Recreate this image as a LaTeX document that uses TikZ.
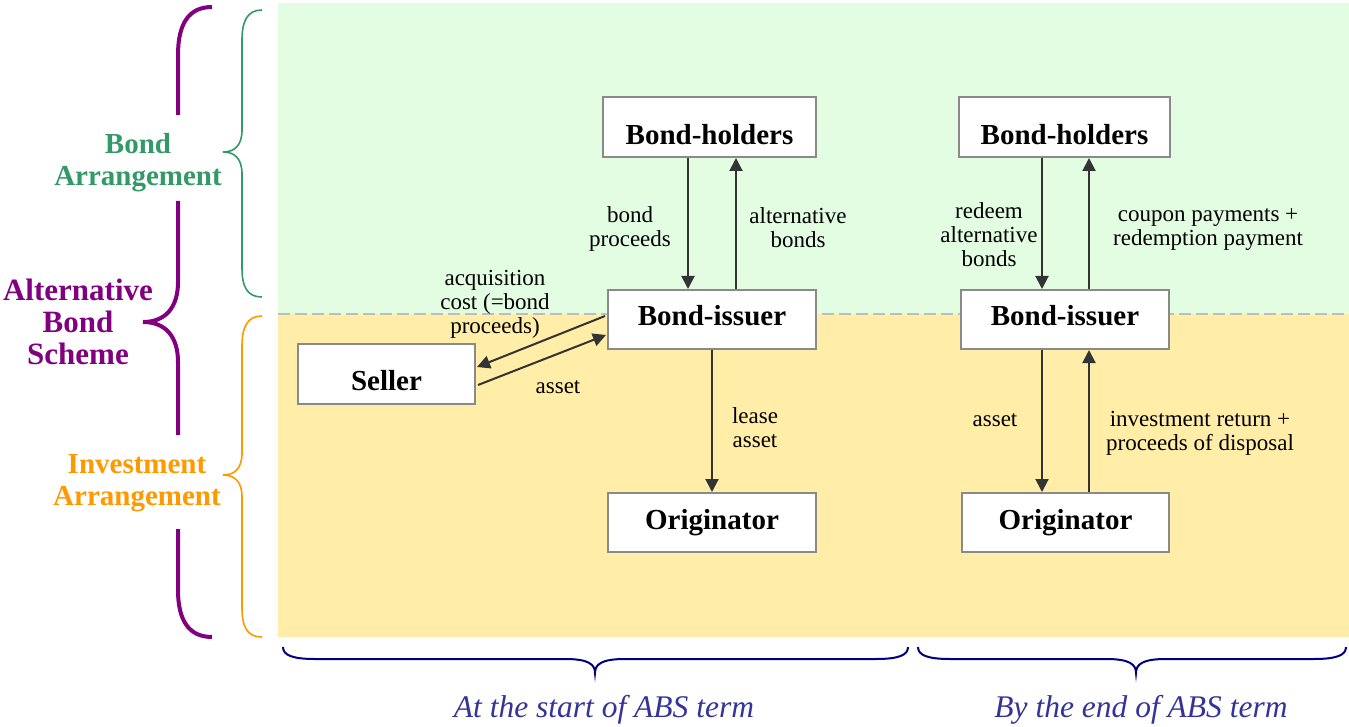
\documentclass[tikz,border=0pt]{standalone}
\usepackage{fontspec}
\setmainfont{Liberation Serif}
\usetikzlibrary{arrows.meta,calc}
\definecolor{greenbg}{HTML}{E3FDE3}
\definecolor{yellowbg}{HTML}{FFEDA8}
\definecolor{boxgray}{HTML}{8A8A8A}
\definecolor{arrowgray}{HTML}{333333}
\definecolor{dashgray}{HTML}{BDBDBD}
\definecolor{bracepurple}{HTML}{800080}
\definecolor{bracegreen}{HTML}{339966}
\definecolor{braceorange}{HTML}{FF9900}
\definecolor{navybrace}{HTML}{000080}
\definecolor{captionblue}{HTML}{333399}
\begin{document}
\begin{tikzpicture}[x=1pt,y=-1pt,
  box/.style={draw=boxgray,line width=2pt,fill=white,inner sep=0pt,
    font=\fontsize{29}{32}\selectfont\bfseries},
  arr/.style={draw=arrowgray,line width=2pt,-{Triangle[length=13pt,width=13pt]}},
  lbl/.style={align=center,inner sep=0pt,font=\fontsize{23}{24}\selectfont,text=black},
  sidelbl/.style={align=center,inner sep=0pt,font=\fontsize{29}{32}\selectfont\bfseries},
  schemelbl/.style={align=center,inner sep=0pt,font=\fontsize{31}{32}\selectfont\bfseries,text=bracepurple},
  caption/.style={inner sep=0pt,font=\fontsize{31.5}{34}\selectfont\itshape,text=captionblue},
  bigbrace/.style={draw=bracepurple,line width=4pt},
  thinbrace/.style={line width=1.6pt},
  navy/.style={draw=navybrace,line width=2pt}
]
\useasboundingbox (0,0) rectangle (1349,727);
% backgrounds
\fill[greenbg] (278,3) rectangle (1349,314);
\fill[yellowbg] (278,314) rectangle (1349,637);
\draw[dashgray,line width=2pt,dash pattern=on 12pt off 5pt] (278,314) -- (1349,314);

% left braces
\draw[bigbrace] (212,7) .. controls (190,7) and (178,22) .. (178,55) -- (178,115);
\draw[bigbrace] (178,201) -- (178,282) .. controls (178,308) and (165,322) .. (143,322)
  .. controls (165,322) and (178,336) .. (178,362) -- (178,435);
\draw[bigbrace] (178,529) -- (178,590) .. controls (178,622) and (190,637) .. (212,637);
\draw[thinbrace,draw=bracegreen] (262,10) .. controls (248,10) and (242,20) .. (242,40) -- (242,130)
  .. controls (242,145) and (235,152) .. (223,152)
  .. controls (235,152) and (242,159) .. (242,174) -- (242,268)
  .. controls (242,288) and (248,297) .. (262,297);
\draw[thinbrace,draw=braceorange] (262,316) .. controls (248,316) and (242,326) .. (242,346) -- (242,453)
  .. controls (242,468) and (235,475) .. (223,475)
  .. controls (235,475) and (242,482) .. (242,497) -- (242,608)
  .. controls (242,628) and (248,637) .. (262,637);
\node[schemelbl] (scheme) at (78,322) {Alternative\\Bond\\Scheme};
\node[sidelbl,text=bracegreen] (bondarr) at (138,163) {Bond\\Arrangement};
\node[sidelbl,text=braceorange] (invarr) at (137,483) {Investment\\Arrangement};

% boxes (left)
\node[box,minimum width=213pt,minimum height=60pt,text height=36pt,text depth=0pt] (bh1) at (709.5,127) {Bond-holders};
\node[box,minimum width=208pt,minimum height=59pt,text height=20pt,text depth=8pt] (bi1) at (712,319.5) {Bond-issuer};
\node[box,minimum width=177pt,minimum height=60pt,text height=32pt,text depth=0pt] (seller) at (386.5,374) {Seller};
\node[box,minimum width=208pt,minimum height=59pt] (or1) at (712,522.5) {Originator};
% boxes (right)
\node[box,minimum width=211pt,minimum height=60pt,text height=36pt,text depth=0pt] (bh2) at (1064.5,127) {Bond-holders};
\node[box,minimum width=208pt,minimum height=59pt,text height=20pt,text depth=8pt] (bi2) at (1065,319.5) {Bond-issuer};
\node[box,minimum width=207pt,minimum height=59pt] (or2) at (1065.5,522.5) {Originator};

% helper x positions
\coordinate (xa) at (688,0);
\coordinate (xb) at (736,0);
\coordinate (xc) at (1042,0);
\coordinate (xd) at (1089,0);

% left arrows
\draw[arr] (bh1.south -| xa) -- (bi1.north -| xa);
\draw[arr] (bi1.north -| xb) -- (bh1.south -| xb);
\draw[arr] (bi1.south) -- (or1.north);
\draw[arr] ($(bi1.west)+(-2,-3.5)$) -- ($(seller.east)+(1,-7)$);
\draw[arr] ($(seller.east)+(2,11)$) -- ($(bi1.west)+(-1,15.5)$);
% right arrows
\draw[arr] (bh2.south -| xc) -- (bi2.north -| xc);
\draw[arr] (bi2.north -| xd) -- (bh2.south -| xd);
\draw[arr] (bi2.south -| xc) -- (or2.north -| xc);
\draw[arr] (or2.north -| xd) -- (bi2.south -| xd);

% labels
\node[lbl] (l1) at (630,229) {bond\\proceeds};
\node[lbl] (l2) at (798,228) {alternative\\bonds};
\node[lbl] (l3) at (755,428) {lease\\asset};
\node[lbl] (l4) at (495,304) {acquisition\\cost (=bond\\proceeds)};
\node[lbl] (l5) at (558,387) {asset};
\node[lbl] (r1) at (989,235) {redeem\\alternative\\bonds};
\node[lbl] (r2) at (1208,229) {coupon payments +\\redemption payment};
\node[lbl] (r3) at (995,420) {asset};
\node[lbl] (r4) at (1200,433) {investment return +\\proceeds of disposal};

% bottom braces
\draw[navy] (283,647) .. controls (283,655) and (292,659) .. (315,659) -- (565,659)
  .. controls (588,659) and (595,664) .. (595,673)
  .. controls (595,664) and (602,659) .. (625,659) -- (876,659)
  .. controls (899,659) and (908,655) .. (908,647);
\draw[navy] (918,647) .. controls (918,655) and (927,659) .. (950,659) -- (1106,659)
  .. controls (1129,659) and (1136,664) .. (1136,673)
  .. controls (1136,664) and (1143,659) .. (1166,659) -- (1314,659)
  .. controls (1337,659) and (1346,655) .. (1346,647);
\node[caption] (c1) at (604,710) {At the start of ABS term};
\node[caption] (c2) at (1141,710) {By the end of ABS term};
\end{tikzpicture}
\end{document}
